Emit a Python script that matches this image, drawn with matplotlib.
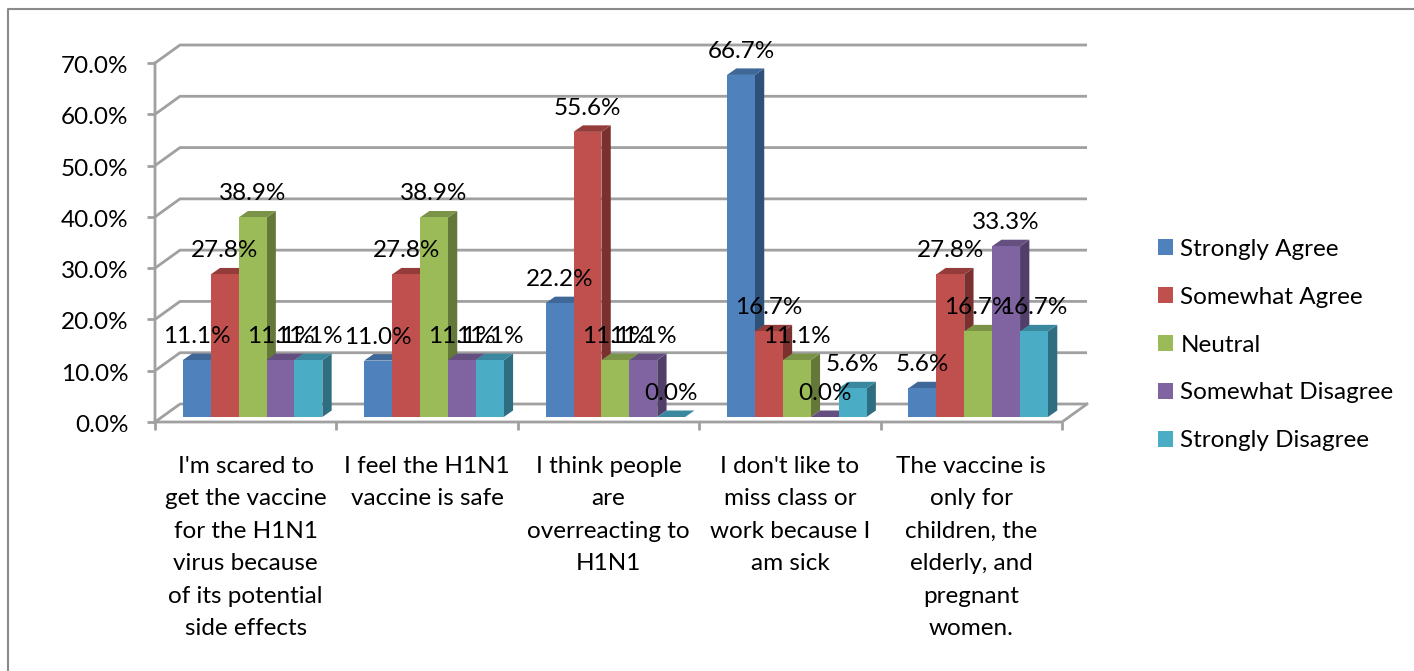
import numpy as np
import matplotlib
matplotlib.use('Agg')
import matplotlib.pyplot as plt
from matplotlib.patches import Polygon, Rectangle
from matplotlib.lines import Line2D
from matplotlib.transforms import ScaledTranslation

plt.rcParams['font.family'] = ['Lato', 'DejaVu Sans']

categories = ["I'm scared to\nget the vaccine\nfor the H1N1\nvirus because\nof its potential\nside effects",
              "I feel the H1N1\nvaccine is safe",
              "I think people\nare\noverreacting to\nH1N1",
              "I don't like to\nmiss class or\nwork because I\nam sick",
              "The vaccine is\nonly for\nchildren, the\nelderly, and\npregnant\nwomen."]
series_names = ['Strongly Agree', 'Somewhat Agree', 'Neutral', 'Somewhat Disagree', 'Strongly Disagree']
strongly_agree = [11.1, 11.0, 22.2, 66.7, 5.6]
somewhat_agree = [27.8, 27.8, 55.6, 16.7, 27.8]
neutral = [38.9, 38.9, 11.1, 11.1, 16.7]
somewhat_disagree = [11.1, 11.1, 11.1, 0.0, 33.3]
strongly_disagree = [11.1, 11.1, 0.0, 5.6, 16.7]
all_series = [strongly_agree, somewhat_agree, neutral, somewhat_disagree, strongly_disagree]
y_ticks = [0, 10, 20, 30, 40, 50, 60, 70]

front = ['#4f81bd', '#c0504d', '#9bbb59', '#8064a2', '#4bacc6']
top = ['#3f6797', '#943c3a', '#7a9346', '#654f80', '#3a88a0']
side = ['#2f5078', '#7a302e', '#64783a', '#523f69', '#2f6e80']
grid_col = '#a0a0a0'
fs = 17.5

W, H = 1414, 671
fig = plt.figure(figsize=(W / 100, H / 100), dpi=100)
fig.patch.set_facecolor('white')

# outer chart border, only top and left are inside the crop
fig.add_artist(Line2D([8 / W, 8 / W, 1], [0, 1 - 9 / H, 1 - 9 / H], transform=fig.transFigure,
                      color='#8a8a8a', lw=1.5))

# axes = front plane of the 3d box
x0, x1, y0, y70 = 155, 1062, 422, 63
ax = fig.add_axes([x0 / W, 1 - y0 / H, (x1 - x0) / W, (y0 - y70) / H])
ax.set_xlim(0, 5)
ax.set_ylim(0, 70)
ax.patch.set_visible(False)
for s in ax.spines.values():
    s.set_visible(False)

px_x = (x1 - x0) / 5
px_y = (y0 - y70) / 70
dx = 25 / px_x       # depth of the box
dy = 18 / px_y
bw = 1 / 6.5         # gap width 150%
bar_dx = 9.3 / px_x
bar_dy = 6.5 / px_y
off_dx = 6.9 / px_x  # bars stand a bit behind the front plane
off_dy = 5 / px_y

# walls and floor lines
for v in y_ticks:
    ax.plot([0, dx, 5 + dx], [v, v + dy, v + dy], color=grid_col, lw=2, clip_on=False, zorder=1,
            solid_capstyle='butt')
ax.plot([0, 0, 5, 5 + dx], [70, 0, 0, dy], color=grid_col, lw=2, clip_on=False, zorder=1,
        solid_joinstyle='miter')

# bars
for c in range(len(categories)):
    for i, vals in enumerate(all_series):
        v = vals[c]
        left = c + 0.75 * bw + off_dx + i * bw
        right = left + bw
        b = off_dy
        z = 3 + c * 10 + i
        ax.add_patch(Polygon([(right, b), (right + bar_dx, b + bar_dy), (right + bar_dx, b + v + bar_dy), (right, b + v)],
                             fc=side[i], ec='none', clip_on=False, zorder=z))
        ax.add_patch(Polygon([(left, b + v), (left + bar_dx, b + v + bar_dy), (right + bar_dx, b + v + bar_dy), (right, b + v)],
                             fc=top[i], ec='none', clip_on=False, zorder=z))
        ax.add_patch(Rectangle((left, b), bw, v, fc=front[i], ec='none', clip_on=False, zorder=z + 0.5))

# data labels, after the bars
for c in range(len(categories)):
    for i, vals in enumerate(all_series):
        v = vals[c]
        xc = c + 0.75 * bw + off_dx + (i + 0.5) * bw
        ax.text(xc, off_dy + v + 23.5 / px_y, '%.1f%%' % v, fontsize=fs, ha='center', va='center',
                color='black', zorder=100, clip_on=False)

ax.set_yticks(y_ticks)
ax.set_yticklabels(['%.1f%%' % v for v in y_ticks], fontsize=fs)
ax.set_xticks(range(6))
ax.set_xticklabels([])
ax.tick_params(axis='both', which='major', color=grid_col, width=2, length=6)
ax.tick_params(axis='y', pad=13)
# tick labels sit a little under their ticks
for lab in ax.get_yticklabels():
    lab.set_transform(lab.get_transform() + ScaledTranslation(0, -1.5 / 100, fig.dpi_scale_trans))
ax.set_xticks(np.arange(5) + 0.5, minor=True)
ax.set_xticklabels(categories, minor=True, fontsize=fs, linespacing=1.67, ha='center', va='top')
ax.tick_params(axis='x', which='minor', length=0, pad=24.5)

# legend drawn from proxies
handles = [Rectangle((0, 0), 1, 1, fc=c, ec='none') for c in front]
leg = fig.legend(handles, series_names, loc='center left', bbox_to_anchor=(1158 / W, 1 - 345 / H), frameon=False,
                 fontsize=fs, handlelength=0.62, handleheight=0.62, handletextpad=0.3, labelspacing=1.11,
                 borderaxespad=0, borderpad=0)

fig.savefig('out.png', dpi=100)
